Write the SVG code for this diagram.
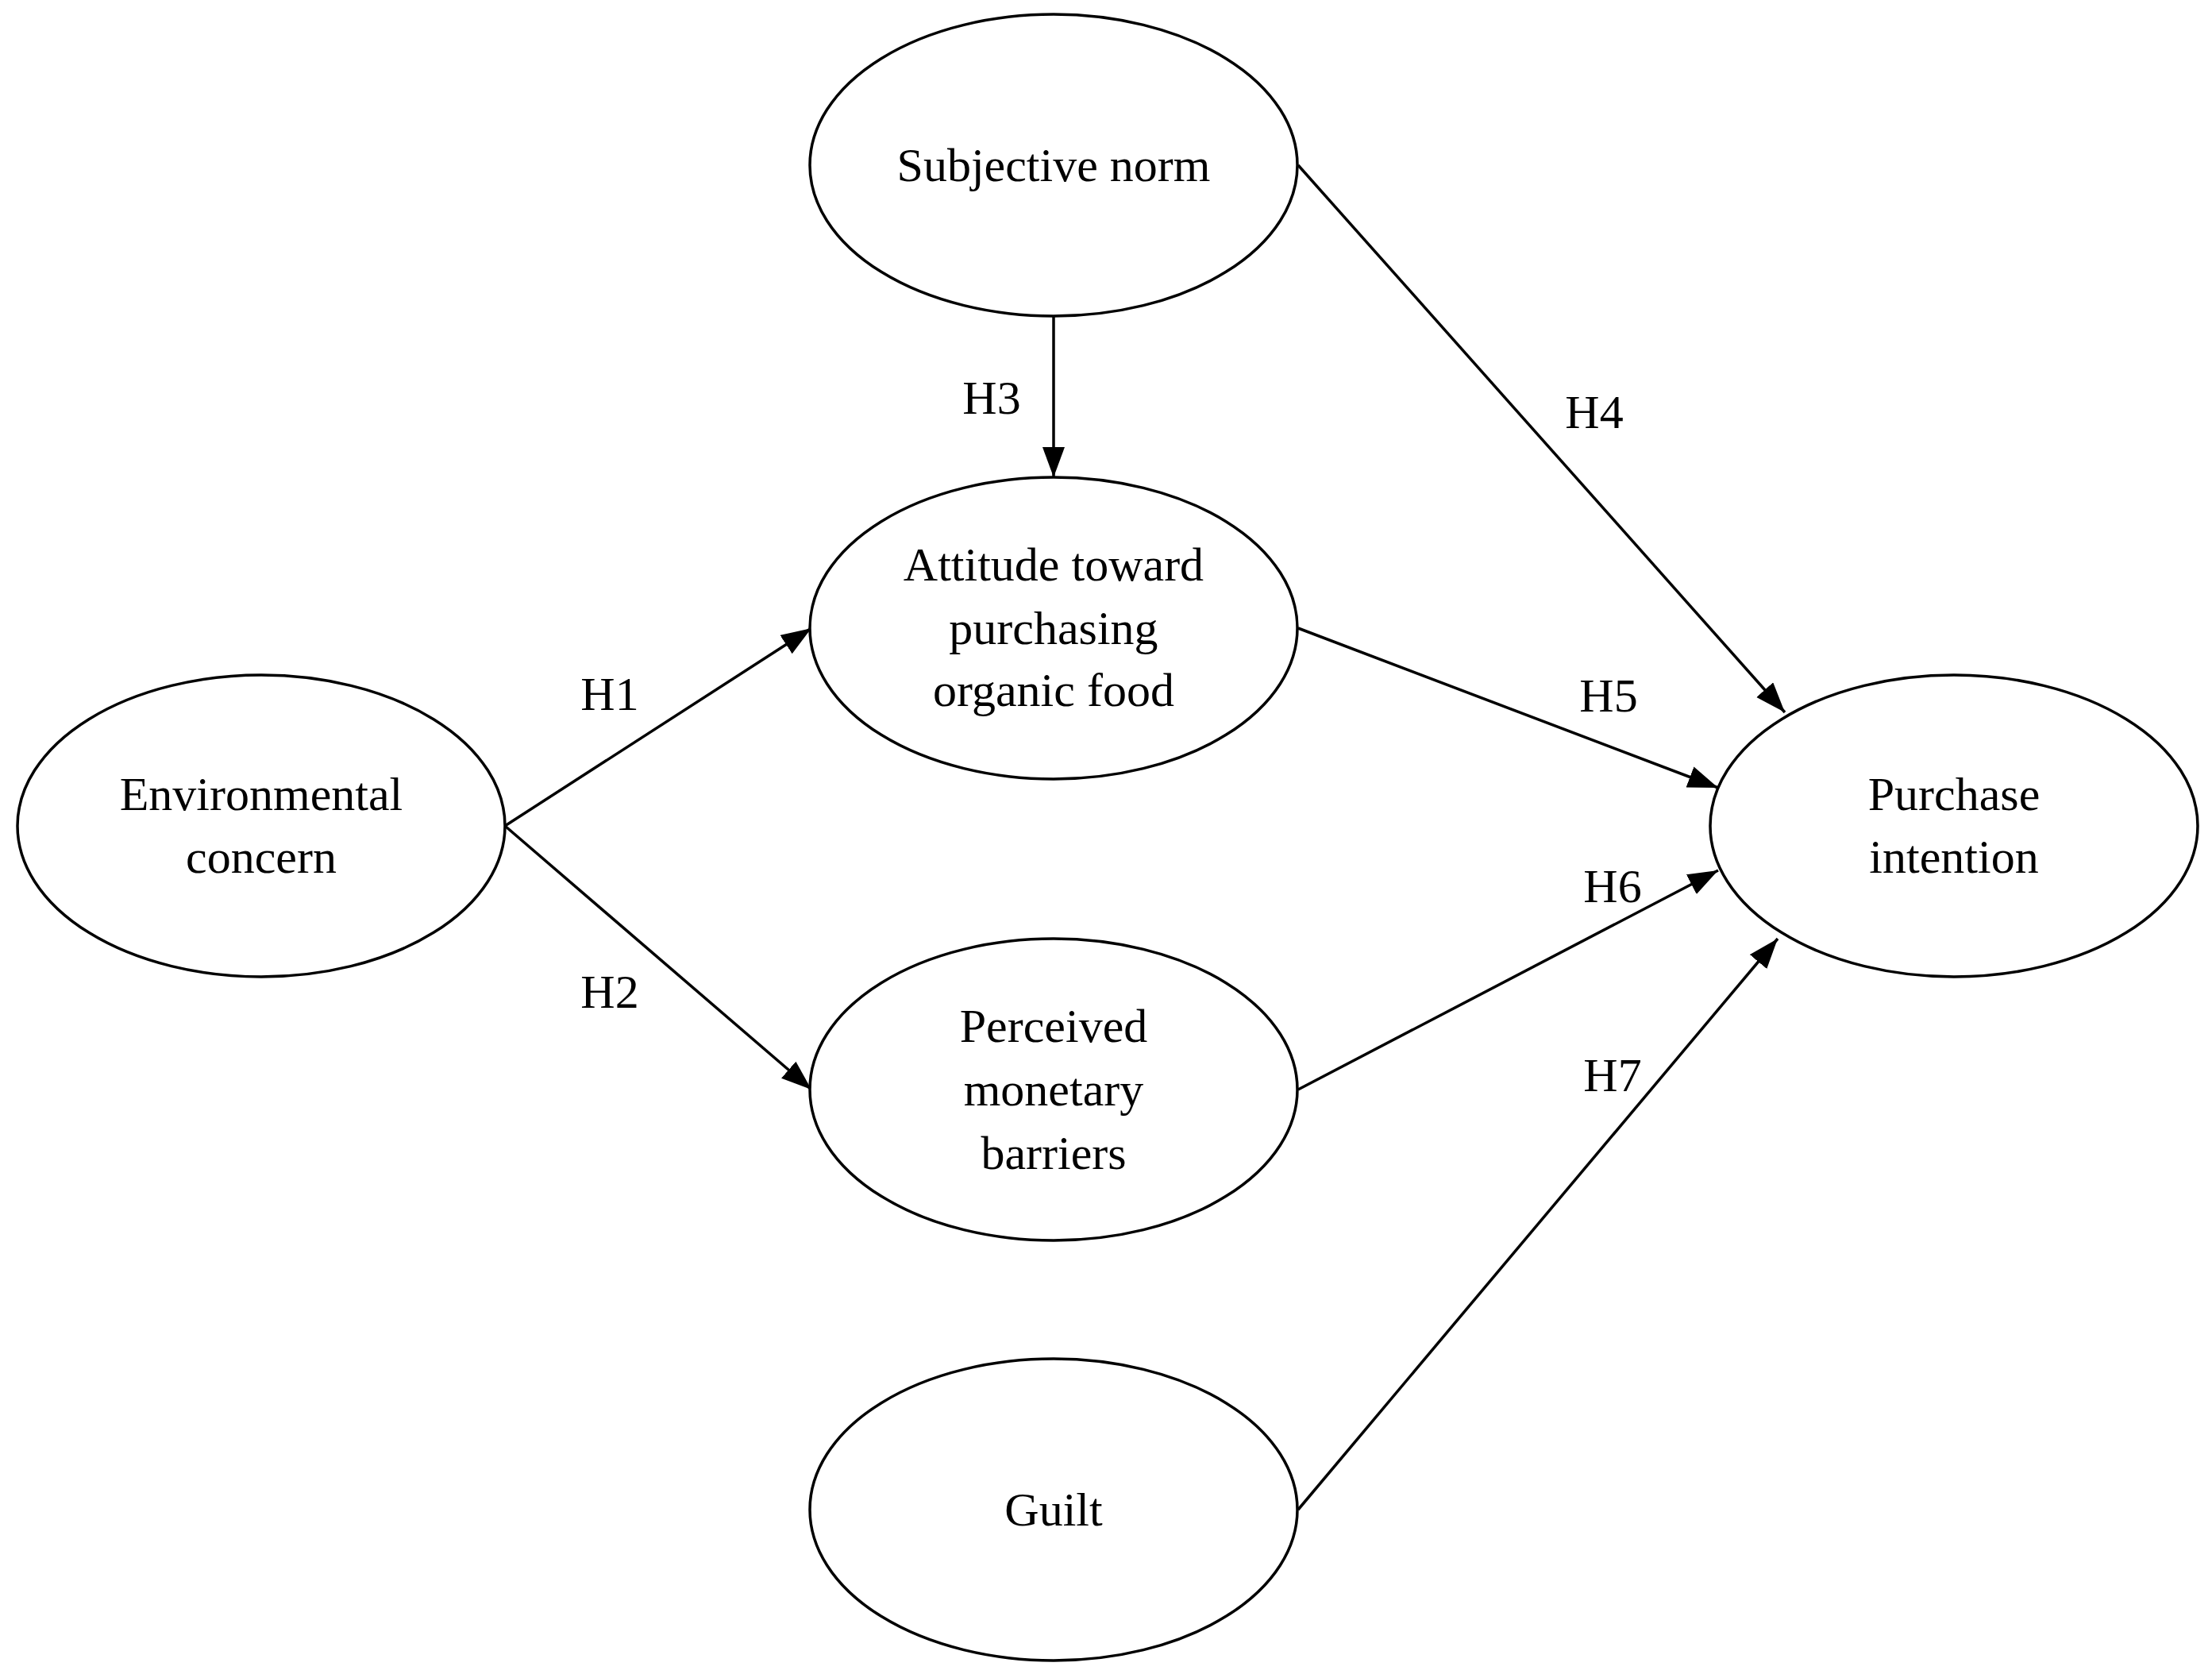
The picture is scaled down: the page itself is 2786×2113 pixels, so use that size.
<svg xmlns="http://www.w3.org/2000/svg" width="2786" height="2113" viewBox="0 0 2786 2113">
<style>
.n ellipse{fill:#fff;stroke:#000;stroke-width:3.5}
text{font-family:"Liberation Serif","DejaVu Serif",serif;font-size:60px;fill:#000;text-anchor:middle;dominant-baseline:central}
.e line{stroke:#000;stroke-width:3.5;marker-end:url(#a)}
</style>
<defs><marker id="a" markerUnits="userSpaceOnUse" markerWidth="40" markerHeight="30" refX="38" refY="14" orient="auto"><path d="M0,0 L38,14 L0,28 Z" fill="#000"/></marker></defs>
<rect width="2786" height="2113" fill="#fff"/>
<g class="e">
<line x1="636" y1="1040" x2="1022" y2="791"/>
<line x1="636" y1="1040" x2="1022" y2="1372"/>
<line x1="1327" y1="398" x2="1327" y2="601"/>
<line x1="1635" y1="208" x2="2248" y2="897"/>
<line x1="1635" y1="791" x2="2164" y2="992"/>
<line x1="1635" y1="1372" x2="2164" y2="1096"/>
<line x1="1635" y1="1901" x2="2239" y2="1182"/>
<text x="768" y="874">H1</text><text x="768" y="1249">H2</text><text x="1249" y="501">H3</text><text x="2008" y="519">H4</text><text x="2026" y="876">H5</text><text x="2031" y="1116">H6</text><text x="2031" y="1354">H7</text>
</g>
<g class="n" id="subjective"><ellipse cx="1327" cy="208" rx="307" ry="190"/><text x="1327" y="208">Subjective norm</text></g>
<g class="n" id="attitude"><ellipse cx="1327" cy="791" rx="307" ry="190"/><text x="1327" y="711">Attitude toward</text><text x="1327" y="791">purchasing</text><text x="1327" y="869">organic food</text></g>
<g class="n" id="env"><ellipse cx="329" cy="1040" rx="307" ry="190"/><text x="329" y="1000">Environmental</text><text x="329" y="1079">concern</text></g>
<g class="n" id="perceived"><ellipse cx="1327" cy="1372" rx="307" ry="190"/><text x="1327" y="1292">Perceived</text><text x="1327" y="1372">monetary</text><text x="1327" y="1452">barriers</text></g>
<g class="n" id="guilt"><ellipse cx="1327" cy="1901" rx="307" ry="190"/><text x="1327" y="1901">Guilt</text></g>
<g class="n" id="purchase"><ellipse cx="2461" cy="1040" rx="307" ry="190"/><text x="2461" y="1000">Purchase</text><text x="2461" y="1079">intention</text></g>
</svg>
